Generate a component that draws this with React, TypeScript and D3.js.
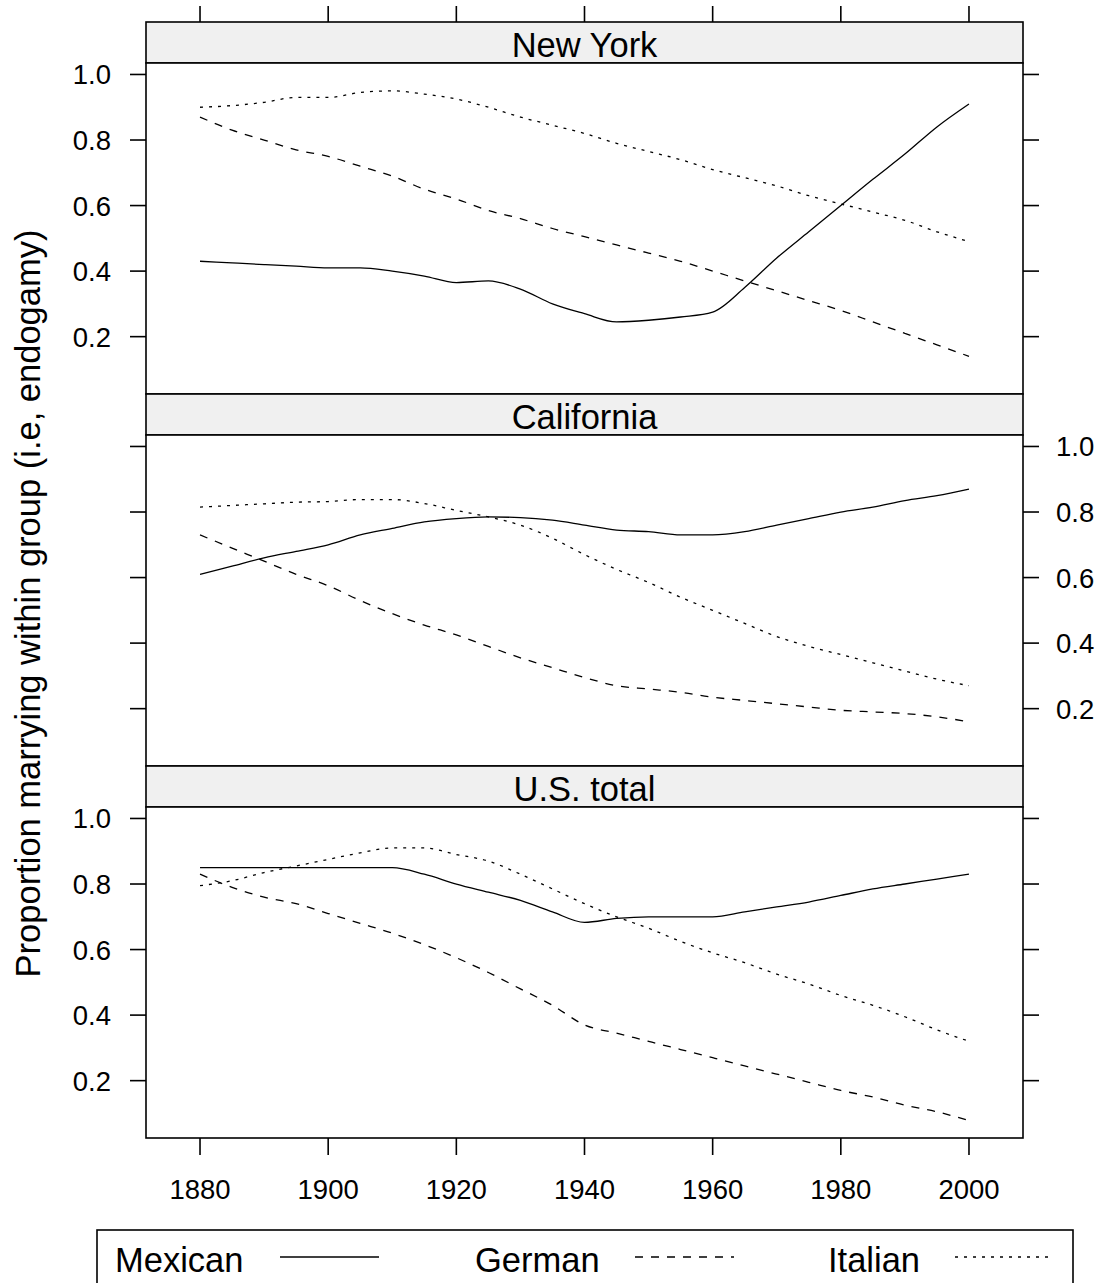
import React from "react";
import * as d3 from "d3";

const years = [1880, 1885, 1890, 1895, 1900, 1905, 1910, 1915, 1920, 1925, 1930, 1935, 1940, 1945, 1950, 1955, 1960, 1965, 1970, 1975, 1980, 1985, 1990, 1995, 2000];

const panels = ["New York", "California", "U.S. total"];
const seriesNames = ["Mexican", "German", "Italian"];

const nyMexican = [0.43, 0.425, 0.42, 0.415, 0.41, 0.41, 0.40, 0.385, 0.365, 0.37, 0.345, 0.30, 0.27, 0.245, 0.25, 0.26, 0.275, 0.35, 0.44, 0.52, 0.60, 0.68, 0.757, 0.84, 0.91];
const nyGerman = [0.87, 0.83, 0.80, 0.77, 0.75, 0.72, 0.69, 0.65, 0.62, 0.585, 0.56, 0.53, 0.505, 0.48, 0.455, 0.43, 0.40, 0.37, 0.34, 0.31, 0.28, 0.245, 0.21, 0.175, 0.14];
const nyItalian = [0.90, 0.905, 0.915, 0.93, 0.93, 0.945, 0.95, 0.94, 0.925, 0.90, 0.87, 0.845, 0.82, 0.79, 0.765, 0.74, 0.71, 0.685, 0.66, 0.63, 0.605, 0.58, 0.555, 0.52, 0.49];

const caMexican = [0.61, 0.635, 0.66, 0.68, 0.70, 0.73, 0.75, 0.77, 0.78, 0.785, 0.783, 0.775, 0.76, 0.745, 0.74, 0.73, 0.73, 0.74, 0.76, 0.78, 0.80, 0.815, 0.835, 0.85, 0.87];
const caGerman = [0.73, 0.69, 0.65, 0.61, 0.575, 0.53, 0.49, 0.455, 0.425, 0.39, 0.355, 0.325, 0.295, 0.27, 0.26, 0.25, 0.235, 0.225, 0.215, 0.205, 0.195, 0.19, 0.185, 0.175, 0.16];
const caItalian = [0.815, 0.82, 0.825, 0.83, 0.832, 0.838, 0.838, 0.826, 0.805, 0.785, 0.76, 0.72, 0.67, 0.625, 0.585, 0.54, 0.50, 0.46, 0.42, 0.39, 0.365, 0.34, 0.315, 0.29, 0.27];

const usMexican = [0.85, 0.85, 0.85, 0.85, 0.85, 0.85, 0.85, 0.83, 0.80, 0.775, 0.75, 0.715, 0.683, 0.695, 0.70, 0.70, 0.70, 0.715, 0.73, 0.745, 0.765, 0.785, 0.80, 0.815, 0.83];
const usGerman = [0.83, 0.79, 0.76, 0.74, 0.71, 0.68, 0.65, 0.615, 0.575, 0.53, 0.48, 0.43, 0.37, 0.345, 0.32, 0.295, 0.27, 0.245, 0.22, 0.195, 0.17, 0.15, 0.125, 0.105, 0.078];
const usItalian = [0.795, 0.81, 0.835, 0.855, 0.875, 0.895, 0.91, 0.91, 0.89, 0.87, 0.83, 0.785, 0.74, 0.70, 0.665, 0.625, 0.59, 0.56, 0.525, 0.495, 0.46, 0.43, 0.395, 0.355, 0.32];

const xTicks = [1880, 1900, 1920, 1940, 1960, 1980, 2000];
const yTicks = [0.2, 0.4, 0.6, 0.8, 1.0];

const panelData = [
  [nyMexican, nyGerman, nyItalian],
  [caMexican, caGerman, caItalian],
  [usMexican, usGerman, usItalian],
];

const dashes = [null, "8,8", "3,6"];

const FONT = "'Liberation Sans', Arial, Helvetica, sans-serif";

export default function App() {
  const left = 146;
  const right = 1023;
  const top = 22;
  const stripH = 41;
  const panelH = 331;
  const blockH = stripH + panelH;

  const x = d3.scaleLinear().domain([1871.57, 2008.43]).range([left, right]);

  const blocks = panels.map((name, i) => {
    const sTop = top + i * blockH;
    const pTop = sTop + stripH;
    const pBot = pTop + panelH;
    const y = d3.scaleLinear().domain([0.025, 1.035]).range([pBot, pTop]);
    return { name, sTop, pTop, pBot, y, i };
  });

  const bottom = top + 3 * blockH;

  return (
    <svg width={1105} height={1283} style={{ display: "block", position: "absolute", left: 0, top: 0 }} fontFamily={FONT}>
      <rect x={0} y={0} width={1105} height={1283} fill="#fff" />
      {xTicks.map((t) => (
        <line key={"tt" + t} x1={x(t)} x2={x(t)} y1={top} y2={top - 16} stroke="#000" strokeWidth={1.6} />
      ))}
      {xTicks.map((t) => (
        <g key={"bt" + t}>
          <line x1={x(t)} x2={x(t)} y1={bottom} y2={bottom + 17} stroke="#000" strokeWidth={1.6} />
          <text x={x(t)} y={1199} textAnchor="middle" fontSize={27.5} fill="#000">{t}</text>
        </g>
      ))}
      {blocks.map((b) => {
        const line = d3
          .line<number>()
          .x((_, k) => x(years[k]))
          .y((v) => b.y(v))
          .curve(d3.curveMonotoneX);
        const labelLeft = b.i !== 1;
        return (
          <g key={b.name}>
            <rect x={left} y={b.sTop} width={right - left} height={stripH} fill="#f0f0f0" stroke="#000" strokeWidth={1.6} />
            <text x={(left + right) / 2} y={b.sTop + 35} textAnchor="middle" fontSize={34.5} fill="#000">{b.name}</text>
            <rect x={left} y={b.pTop} width={right - left} height={panelH} fill="#fff" stroke="#000" strokeWidth={1.6} />
            {yTicks.map((t) => (
              <g key={"yt" + t}>
                <line x1={left} x2={left - 16} y1={b.y(t)} y2={b.y(t)} stroke="#000" strokeWidth={1.6} />
                <line x1={right} x2={right + 16} y1={b.y(t)} y2={b.y(t)} stroke="#000" strokeWidth={1.6} />
                {labelLeft ? (
                  <text x={111} y={b.y(t) + 10} textAnchor="end" fontSize={27.5} fill="#000">{t.toFixed(1)}</text>
                ) : (
                  <text x={1056} y={b.y(t) + 10} textAnchor="start" fontSize={27.5} fill="#000">{t.toFixed(1)}</text>
                )}
              </g>
            ))}
            {panelData[b.i].map((vals, s) => (
              <path
                key={seriesNames[s]}
                d={line(vals) || ""}
                fill="none"
                stroke="#000"
                strokeWidth={1.3}
                strokeDasharray={dashes[s] || undefined}
              />
            ))}
          </g>
        );
      })}
      <text
        transform={`translate(40, ${(top + stripH + bottom) / 2 + 3}) rotate(-90)`}
        textAnchor="middle"
        fontSize={34.5}
        fill="#000"
      >
        Proportion marrying within group (i.e, endogamy)
      </text>
      <rect x={97} y={1230} width={976} height={70} fill="#fff" stroke="#000" strokeWidth={1.6} />
      {seriesNames.map((n, s) => {
        const tx = [115, 475, 828][s];
        const lx = [280, 635, 955][s];
        return (
          <g key={"lg" + n}>
            <text x={tx} y={1272} fontSize={34.5} fill="#000">{n}</text>
            <line x1={lx} x2={lx + 99} y1={1257} y2={1257} stroke="#000" strokeWidth={1.3} strokeDasharray={dashes[s] || undefined} />
          </g>
        );
      })}
    </svg>
  );
}
